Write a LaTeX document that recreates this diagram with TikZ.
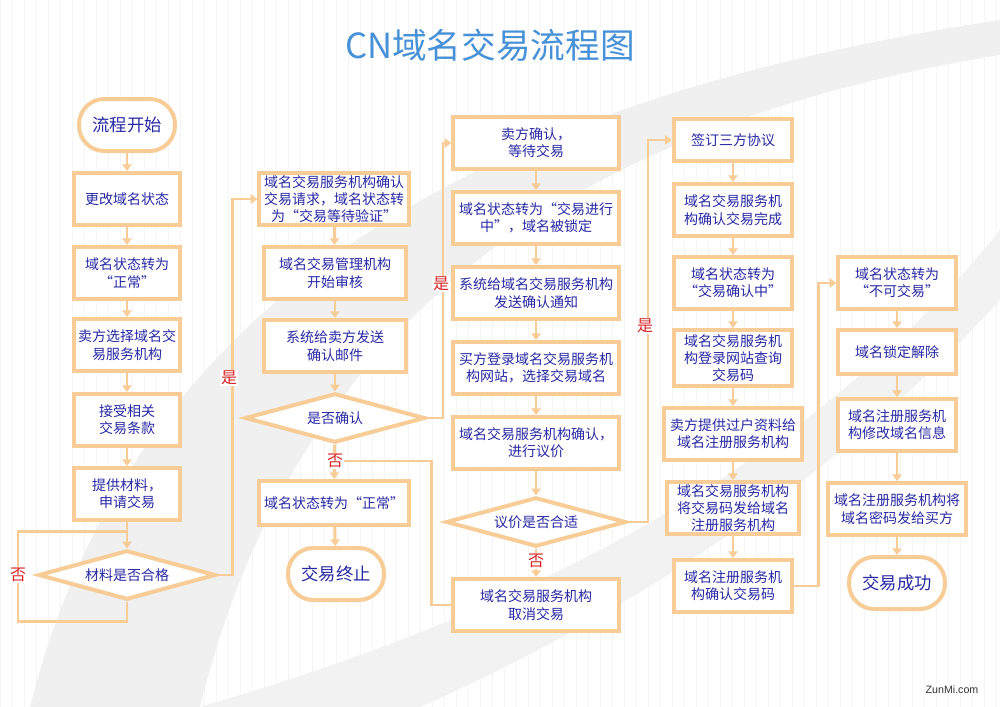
\documentclass[tikz,border=0pt]{standalone}
\usepackage{fontspec}
\setmainfont{Noto Sans CJK SC}
\newfontfamily\wmfont{Liberation Sans}
\usetikzlibrary{shapes.geometric,arrows.meta}
\definecolor{boxline}{RGB}{248,204,150}
\definecolor{boxtext}{RGB}{40,40,165}
\definecolor{titleblue}{RGB}{70,145,215}
\definecolor{yesno}{RGB}{215,35,35}
\tikzset{
  box/.style={draw=boxline,line width=3pt,fill=white,text=boxtext,align=center,
    font=\fontsize{10.5}{13}\selectfont,inner sep=1pt,minimum height=39pt},
  term/.style={box,rounded corners=19pt,font=\fontsize{13}{15}\selectfont,minimum width=72pt},
  ask/.style={box,diamond,aspect=3.5,inner sep=0pt,minimum height=37pt},
  link/.style={draw=boxline,line width=2.2pt,-{Triangle[width=7pt,length=5pt]}},
  wire/.style={draw=boxline,line width=2.2pt},
  yn/.style={text=yesno,fill=white,inner sep=1pt,font=\fontsize{12}{12}\selectfont}
}
\begin{document}
\begin{tikzpicture}[x=0.75pt,y=-0.75pt]
\useasboundingbox (0,0) rectangle (1000,707);
% background
\draw[black!4,step=12] (0,0) grid (1000,707);
\fill[black!6] (30,707) .. controls (120,350) and (400,110) .. (1000,20) -- (1000,55) .. controls (600,120) and (300,300) .. (200,707) -- cycle;
\fill[black!5] (200,707) .. controls (500,620) and (800,480) .. (1000,230) -- (1000,300) .. controls (800,520) and (550,650) .. (420,707) -- cycle;
\node[text=titleblue,font=\fontsize{26}{30}\selectfont] (title) at (490,45) {CN域名交易流程图};
\node[font=\wmfont\fontsize{8}{9}\selectfont,text=black!80] (wm) at (952,690) {ZunMi.com};

% column 1
\node[term,minimum height=39pt] (s1) at (127,125) {流程开始};
\node[box,minimum width=79pt] (b1) at (127,199) {更改域名状态};
\node[box,minimum width=80pt] (b2) at (127,273) {域名状态转为\\“正常”};
\node[box,minimum width=80pt] (b3) at (127,345) {卖方选择域名交\\易服务机构};
\node[box,minimum width=80pt] (b4) at (127,420) {接受相关\\交易条款};
\node[box,minimum width=80pt] (b5) at (127,494) {提供材料，\\申请交易};
\node[ask,minimum width=133pt] (d1) at (127,575) {材料是否合格};

% column 2
\node[box,minimum width=112pt] (c2a) at (334,199) {域名交易服务机构确认\\交易请求，域名状态转\\为“交易等待验证”};
\node[box,minimum width=107pt] (c2b) at (335,273) {域名交易管理机构\\开始审核};
\node[box,minimum width=107pt] (c2c) at (335,346) {系统给卖方发送\\确认邮件};
\node[ask,minimum width=135pt] (d2) at (335,418) {是否确认};
\node[box,minimum width=112pt,minimum height=33pt] (c2d) at (334,503) {域名状态转为“正常”};
\node[term,minimum height=39pt] (c2e) at (336,574) {交易终止};

% column 3
\node[box,minimum width=124pt] (c3a) at (536,143) {卖方确认，\\等待交易};
\node[box,minimum width=124pt] (c3b) at (536,218) {域名状态转为“交易进行\\中”，域名被锁定};
\node[box,minimum width=124pt] (c3c) at (536,293) {系统给域名交易服务机构\\发送确认通知};
\node[box,minimum width=124pt] (c3d) at (536,368) {买方登录域名交易服务机\\构网站，选择交易域名};
\node[box,minimum width=124pt] (c3e) at (536,443) {域名交易服务机构确认，\\进行议价};
\node[ask,minimum width=135pt] (d3) at (536,522) {议价是否合适};
\node[box,minimum width=124pt] (c3f) at (536,605) {域名交易服务机构\\取消交易};

% column 4
\node[box,minimum width=89pt,minimum height=32pt] (c4a) at (733,140) {签订三方协议};
\node[box,minimum width=89pt] (c4b) at (733,210) {域名交易服务机\\构确认交易完成};
\node[box,minimum width=89pt] (c4c) at (733,283) {域名状态转为\\“交易确认中”};
\node[box,minimum width=89pt,minimum height=42pt] (c4d) at (733,358) {域名交易服务机\\构登录网站查询\\交易码};
\node[box,minimum width=103pt] (c4e) at (733,434) {卖方提供过户资料给\\域名注册服务机构};
\node[box,minimum width=99pt] (c4f) at (733,508) {域名交易服务机构\\将交易码发给域名\\注册服务机构};
\node[box,minimum width=89pt] (c4g) at (733,586) {域名注册服务机\\构确认交易码};

% column 5
\node[box,minimum width=88pt] (c5a) at (897,283) {域名状态转为\\“不可交易”};
\node[box,minimum width=88pt,minimum height=33pt] (c5b) at (897,352) {域名锁定解除};
\node[box,minimum width=88pt] (c5c) at (897,425) {域名注册服务机\\构修改域名信息};
\node[box,minimum width=103pt] (c5d) at (897,509) {域名注册服务机构将\\域名密码发给买方};
\node[term,minimum height=39pt] (c5e) at (897,583) {交易成功};

% straight arrows
\foreach \a/\b in {s1/b1,b1/b2,b2/b3,b3/b4,b4/b5,b5/d1,
  c2a/c2b,c2b/c2c,c2c/d2,d2/c2d,c2d/c2e,
  c3a/c3b,c3b/c3c,c3c/c3d,c3d/c3e,c3e/d3,d3/c3f,
  c4a/c4b,c4b/c4c,c4c/c4d,c4d/c4e,c4e/c4f,c4f/c4g,
  c5a/c5b,c5b/c5c,c5c/c5d,c5d/c5e}
  \draw[link] (\a) -- (\b);

% branches
\draw[wire] (d1.south) -- ++(0,20) -| ++(-109,-90) -- ++(109,0);
\node[yn] (n1) at (18,575) {否};
\draw[link] (d1.east) -- ++(15,0) |- (c2a.west);
\node[yn] (y1) at (229,378) {是};
\draw[link] (d2.east) -- ++(16,0) |- (c3a.west);
\node[yn] (y2) at (441,284) {是};
\coordinate (j2) at (335,461);
\draw[wire] (c3f.west) -- ++(-20,0) |- (j2);
\node[yn] (n2) at (335,461) {否};
\draw[link] (d3.east) -- ++(20,0) |- (c4a.west);
\node[yn] (y3) at (645,326) {是};
\node[yn] (n3) at (536,561) {否};
\draw[link] (c4g.east) -- ++(24,0) |- (c5a.west);
\end{tikzpicture}
\end{document}
